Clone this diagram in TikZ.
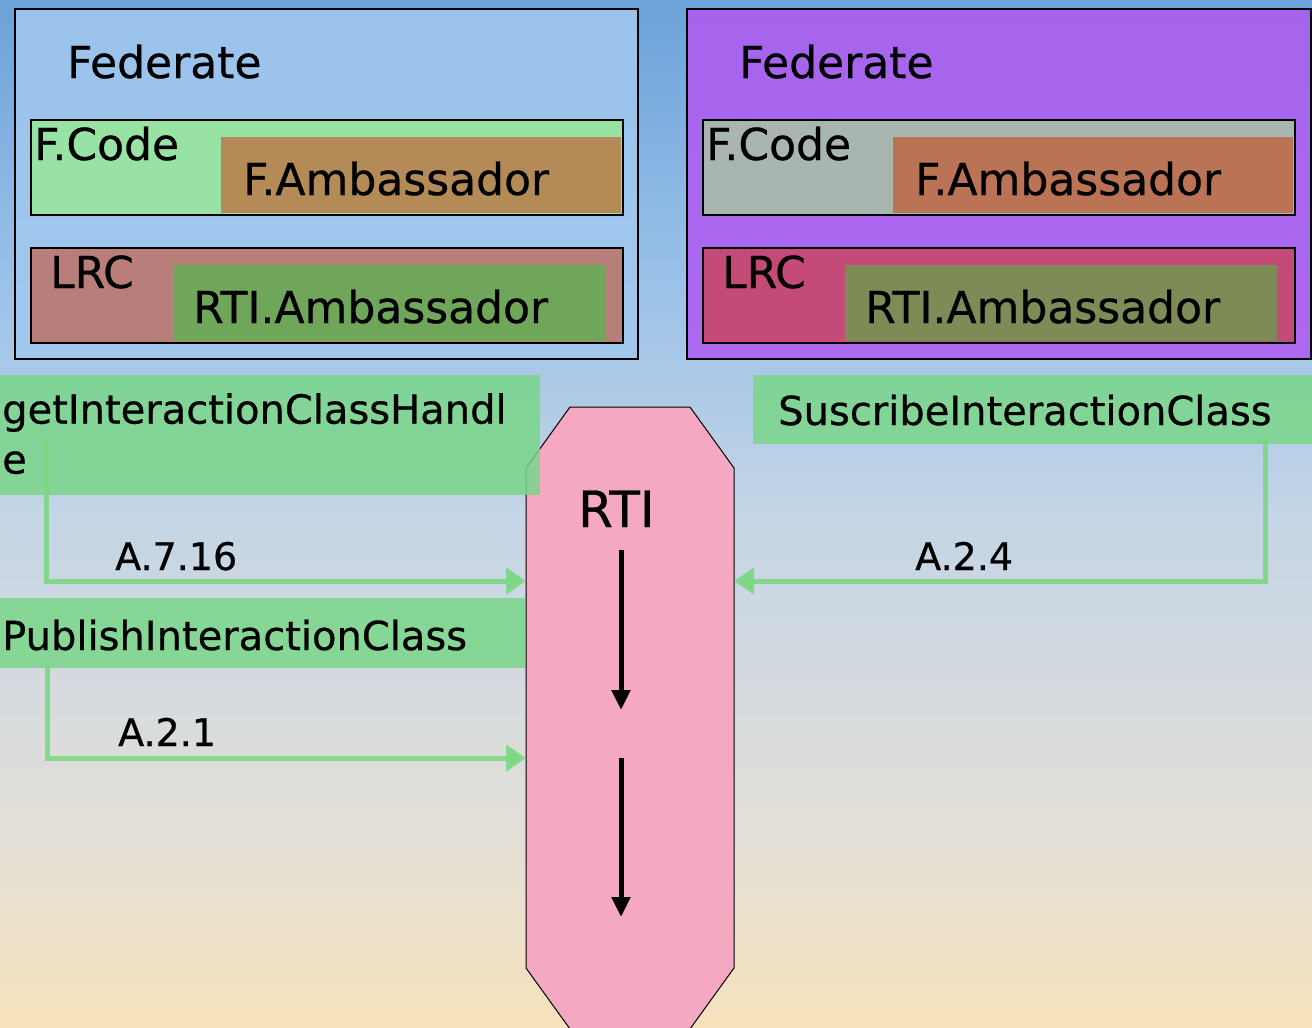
\documentclass[tikz,border=0pt]{standalone}
\usepackage{fontspec}
\setmainfont{DejaVu Sans}[FakeBold=0.6]
\usetikzlibrary{positioning,arrows.meta}

\definecolor{skytop}{HTML}{6BA2DA}
\definecolor{skyhigh}{HTML}{98C0E8}
\definecolor{skymid}{HTML}{C4D5E6}
\definecolor{skylow}{HTML}{E2DFD8}
\definecolor{skybot}{HTML}{F6E2BC}
\definecolor{fedblue}{HTML}{A2C8EE}
\definecolor{fedpurple}{HTML}{AD5EF0}
\definecolor{codegreen}{HTML}{98E2A4}
\definecolor{codegrey}{HTML}{A9B6B0}
\definecolor{ambbrown}{HTML}{B48A56}
\definecolor{ambrust}{HTML}{BB7356}
\definecolor{lrcrose}{HTML}{B87E7A}
\definecolor{lrccrimson}{HTML}{C44B78}
\definecolor{rtigreen}{HTML}{6FA65A}
\definecolor{rtiolive}{HTML}{7D8C57}
\definecolor{callgreen}{HTML}{7AD68A}
\definecolor{conngreen}{HTML}{7CD884}
\definecolor{rtipink}{HTML}{F5A8C2}

\pgfdeclareverticalshading{sky}{100bp}{color(0bp)=(skybot); color(25bp)=(skybot); color(35bp)=(skylow); color(50bp)=(skymid); color(62bp)=(skyhigh); color(75bp)=(skytop); color(100bp)=(skytop)}

\tikzset{
    fedbox/.style={rectangle, draw=black, line width=1.5pt, inner sep=0, anchor=north west},
    layer/.style={rectangle, draw=black, line width=1.5pt, inner sep=0, anchor=north west, minimum width=592pt, minimum height=95pt},
    inlayer/.style={rectangle, inner sep=0, anchor=north west, minimum height=76pt},
    callbox/.style={rectangle, inner sep=0, anchor=north west, fill=callgreen, fill opacity=0.85},
    rtibody/.style={rectangle, inner sep=0, outer sep=0, minimum width=208pt, minimum height=622pt},
    bigtxt/.style={inner sep=0, anchor=base west, font=\fontsize{44}{50}\selectfont},
    calltxt/.style={inner sep=0, font=\fontsize{40}{50}\selectfont},
    reftxt/.style={inner sep=0, anchor=base west, font=\fontsize{38}{44}\selectfont},
    conn/.style={draw=conngreen, draw opacity=0.9, line width=5pt, -{Triangle[length=20pt,width=26pt]}},
    flow/.style={line width=5pt, -{Triangle[length=20pt,width=18pt]}},
}

\begin{document}
\begin{tikzpicture}
        [x=1pt,y=-1pt]

        % Sky
        \shade[shading=sky] (0,0) rectangle (1312,1028);
        \useasboundingbox (0,0) rectangle (1312,1028);

        % Left federate
        \node[fedbox, fill=fedblue, fill opacity=0.85, minimum width=623pt, minimum height=350pt] (fedL) at (14,8) {};
        \node[layer, fill=codegreen] (fcodeL) at (30,119) {};
        \node[inlayer, fill=ambbrown, minimum width=400pt] (fambL) at (221,137) {};
        \node[layer, fill=lrcrose] (lrcL) at (30,247) {};
        \node[inlayer, fill=rtigreen, minimum width=432pt] (rtiambL) at (173,265) {};

        % Right federate
        \node[fedbox, fill=fedpurple, fill opacity=0.9, minimum width=624pt, minimum height=350pt] (fedR) at (686,8) {};
        \node[layer, fill=codegrey] (fcodeR) at (702,119) {};
        \node[inlayer, fill=ambrust, minimum width=400pt] (fambR) at (893,137) {};
        \node[layer, fill=lrccrimson] (lrcR) at (702,247) {};
        \node[inlayer, fill=rtiolive, minimum width=432pt] (rtiambR) at (845,265) {};

        % Texts of the federates
        \node[bigtxt] (fedLtxt) at (67,78) {Federate};
        \node[bigtxt] (fcodeLtxt) at (34,160) {F.Code};
        \node[bigtxt] (fambLtxt) at (243,195) {F.Ambassador};
        \node[bigtxt] (lrcLtxt) at (50,288) {LRC};
        \node[bigtxt] (rtiambLtxt) at (193,323) {RTI.Ambassador};
        \node[bigtxt] (fedRtxt) at (739,78) {Federate};
        \node[bigtxt] (fcodeRtxt) at (706,160) {F.Code};
        \node[bigtxt] (fambRtxt) at (915,195) {F.Ambassador};
        \node[bigtxt] (lrcRtxt) at (722,288) {LRC};
        \node[bigtxt] (rtiambRtxt) at (865,323) {RTI.Ambassador};

        % RTI
        \node[rtibody] (rti) at (630,718) {};
        \filldraw[fill=rtipink, draw=black, line width=1pt]
            ([xshift=44pt]rti.north west) -- ([xshift=-44pt]rti.north east)
            -- ([yshift=-61pt]rti.north east) -- ([yshift=61pt]rti.south east)
            -- ([xshift=-44pt]rti.south east) -- ([xshift=44pt]rti.south west)
            -- ([yshift=61pt]rti.south west) -- ([yshift=-61pt]rti.north west) -- cycle;
        \node[inner sep=0, anchor=base west, font=\fontsize{50}{56}\selectfont] (rtitxt) at (578,527) {RTI};
        \coordinate (flow1a) at (621,550);
        \coordinate (flow1b) at (621,710);
        \coordinate (flow2a) at (621,758);
        \coordinate (flow2b) at (621,917);
        \draw[flow] (flow1a) -- (flow1b);
        \draw[flow] (flow2a) -- (flow2b);

        % Service calls
        \node[callbox, minimum width=540pt, minimum height=120pt] (getich) at (0,375) {};
        \node[callbox, minimum width=525pt, minimum height=70pt] (pubic) at (0,598) {};
        \node[callbox, minimum width=559pt, minimum height=69pt] (subic) at (753,375) {};
        \node[calltxt, anchor=north west, align=left] (getichtxt) at (2,393) {getInteractionClassHandl\\e};
        \node[calltxt, anchor=base west] (pubictxt) at (2,650) {PublishInteractionClass};
        \node[calltxt, anchor=base west] (subictxt) at (778,425) {SuscribeInteractionClass};

        % Lines
        \coordinate (getfoot) at (46,440);
        \coordinate (pubfoot) at (47,665);
        \coordinate (subfoot) at (1265,440);
        \coordinate (getin) at ([yshift=137pt]rti.west);
        \coordinate (pubin) at ([yshift=-40pt]rti.west);
        \coordinate (subin) at ([yshift=137pt]rti.east);
        \draw[conn] (getfoot) |- (getin);
        \draw[conn] (pubfoot) |- (pubin);
        \draw[conn] (subfoot) |- (subin);
        \node[reftxt] (getref) at (115,570) {A.7.16};
        \node[reftxt] (pubref) at (118,746) {A.2.1};
        \node[reftxt] (subref) at (915,570) {A.2.4};

    \end{tikzpicture}
\end{document}
